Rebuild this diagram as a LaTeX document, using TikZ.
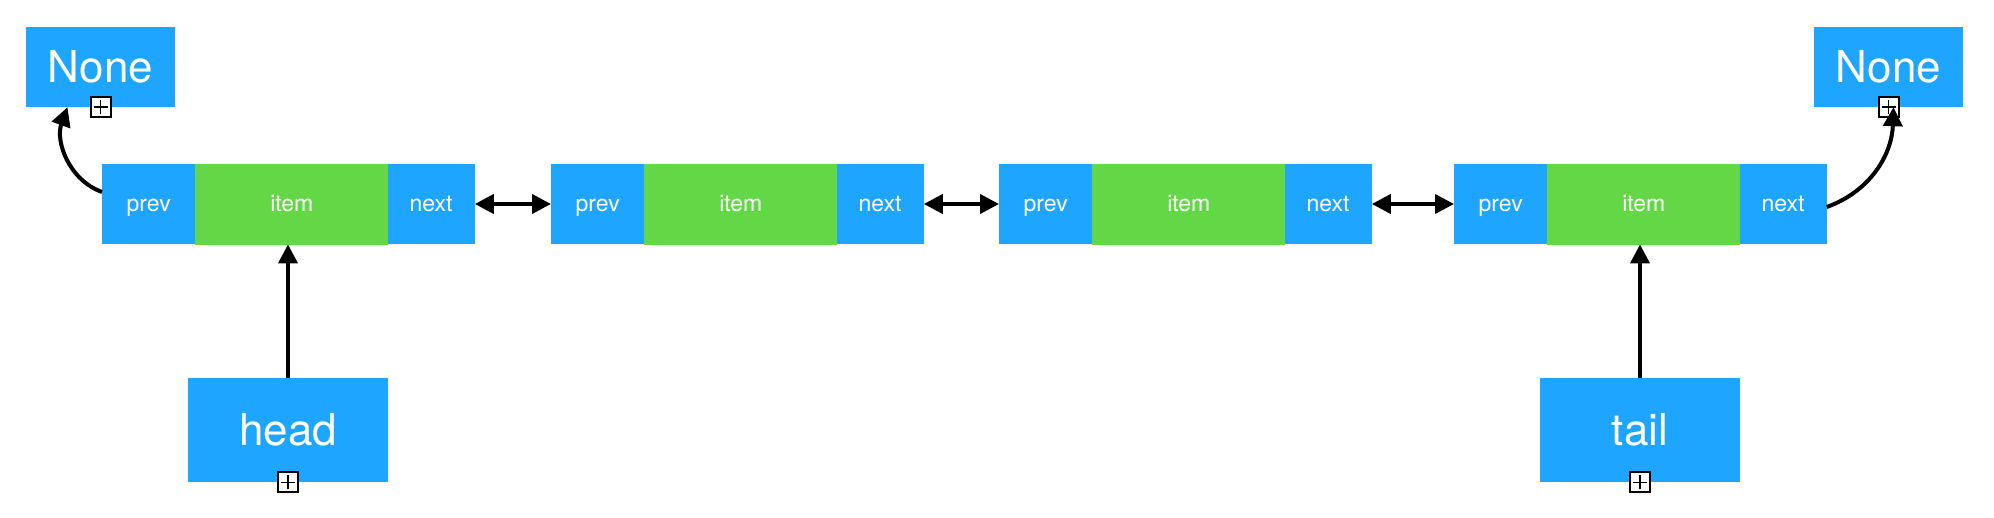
\documentclass[tikz,border=0pt]{standalone}
\usepackage{fontspec}
\setmainfont{TeX Gyre Heros}
\usetikzlibrary{arrows.meta}
\definecolor{nodeblue}{RGB}{30,165,255}
\definecolor{itemgreen}{RGB}{99,215,69}
\begin{document}
\begin{tikzpicture}[x=1pt,y=-1pt,
  cell/.style={rectangle, inner sep=0pt, minimum height=80pt, anchor=west, text=white,
    text height=16pt, text depth=0pt, font=\fontsize{23}{27}\selectfont},
  ptrcell/.style={cell, fill=nodeblue},
  prevcell/.style={ptrcell, minimum width=93pt},
  nextcell/.style={ptrcell, minimum width=87pt},
  itemcell/.style={cell, fill=itemgreen, draw=itemgreen, line width=0.8pt, minimum width=192pt},
  bigbox/.style={rectangle, inner sep=0pt, fill=nodeblue, text=white, font=\fontsize{44}{50}\selectfont},
  plusicon/.style={rectangle, draw=black, fill=white, line width=2pt, minimum size=20pt, inner sep=0pt,
    path picture={\draw[line width=1.4pt] ([xshift=-7pt]path picture bounding box.center) -- ([xshift=7pt]path picture bounding box.center);
                  \draw[line width=1.4pt] ([yshift=-7pt]path picture bounding box.center) -- ([yshift=7pt]path picture bounding box.center);}},
  link/.style={line width=4pt, -{Triangle[length=19pt,width=19pt]}},
  dlink/.style={line width=4pt, {Triangle[length=19pt,width=19pt]}-{Triangle[length=19pt,width=19pt]}}
]
\fill[white] (0,0) rectangle (1994,518);
\useasboundingbox (0,0) rectangle (1994,518);

% list nodes
\foreach \i/\x in {1/102, 2/551, 3/999, 4/1454}{
  \node[prevcell] (a\i) at (\x,204) {prev};
  \node[nextcell] (c\i) at ([xshift=192pt]a\i.east) {next};
  \node[itemcell] (b\i) at (a\i.east) {item};
}

% None boxes, head, tail
\node[bigbox, minimum width=149pt, minimum height=80pt] (noneL) at (100.5,67) {None};
\node[bigbox, minimum width=149pt, minimum height=80pt] (noneR) at (1888.5,67) {None};
\node[bigbox, minimum width=200pt, minimum height=104pt] (head) at (288,430) {head};
\node[bigbox, minimum width=200pt, minimum height=104pt] (tail) at (1640,430) {tail};

% plus icons
\node[plusicon] (pNL) at (noneL.south) {};
\node[plusicon] (pNR) at (noneR.south) {};
\node[plusicon] (pH) at (head.south) {};
\node[plusicon] (pT) at (tail.south) {};

% connectors
\draw[dlink] (c1.east) -- (a2.west);
\draw[dlink] (c2.east) -- (a3.west);
\draw[dlink] (c3.east) -- (a4.west);
\draw[link] (head.north) -- (head.north |- b1.south);
\draw[link] (tail.north) -- (tail.north |- b4.south);
\draw[link] ([yshift=12pt]a1.west) to[out=160,in=-110] ([xshift=-33pt]noneL.south);
\draw[link] ([yshift=-3pt]c4.east) to[out=20,in=-92] ([xshift=5pt]noneR.south);
\end{tikzpicture}
\end{document}
